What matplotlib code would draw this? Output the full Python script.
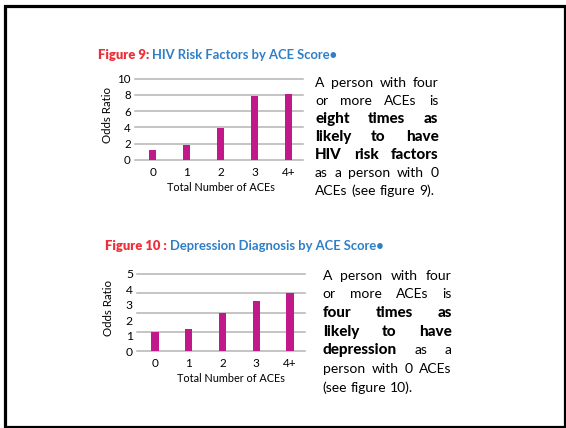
import matplotlib
matplotlib.use('Agg')
import matplotlib.pyplot as plt
from matplotlib.patches import Rectangle
from matplotlib.transforms import IdentityTransform

W, H = 566, 428
FONT = ['Lato', 'DejaVu Sans']

categories = ['0', '1', '2', '3', '4+']
hiv_odds = [1.2, 1.8, 3.9, 7.9, 8.1]
hiv_ticks = [0, 2, 4, 6, 8, 10]
dep_odds = [1.25, 1.45, 2.5, 3.25, 3.75]
dep_ticks = [0, 1, 2, 3, 4, 5]
dep_grid = [0, 1.25, 2.5, 3.75, 5]

hiv_title = ('Figure 9:', 'HIV Risk Factors by ACE Score•')
dep_title = ('Figure 10 :', 'Depression Diagnosis by ACE Score•')

# each line: list of (text, bold)
hiv_text = [
    [('A person with four', False)],
    [('or more ACEs is', False)],
    [('eight times as', True)],
    [('likely to have', True)],
    [('HIV risk factors', True)],
    [('as a person with 0', False)],
    [('ACEs (see figure 9).', False)],
]
dep_text = [
    [('A person with four', False)],
    [('or more ACEs is', False)],
    [('four times as', True)],
    [('likely to have', True)],
    [('depression', True), ('as a', False)],
    [('person with 0 ACEs', False)],
    [('(see figure 10).', False)],
]

BAR = '#c2198a'
RED = '#ec2f38'
BLUE = '#2f7fc6'
GRID = '#b4b4b4'

plt.rcParams['font.family'] = FONT
fig = plt.figure(figsize=(W / 100, H / 100), dpi=100)
renderer = fig.canvas.get_renderer()


def px_axes(left, top, right, bottom):
    return fig.add_axes([left / W, 1 - bottom / H, (right - left) / W, (bottom - top) / H])


def bar_panel(ax, values, yticks, grid_at, xlim, tick_size):
    xs = range(len(categories))
    ax.bar(xs, values, width=0.22, color=BAR, zorder=3)
    ax.set_xlim(*xlim)
    ax.set_ylim(yticks[0], yticks[-1])
    ax.set_xticks(list(xs))
    ax.set_xticklabels(categories, fontsize=8.5)
    ax.set_yticks(yticks)
    ax.set_yticklabels([str(t) for t in yticks], fontsize=tick_size)
    for g in grid_at:
        ax.axhline(g, color=GRID, lw=1.1, zorder=1, clip_on=False)
    for s in ax.spines.values():
        s.set_visible(False)
    ax.tick_params(axis='y', length=0, pad=3)
    ax.tick_params(axis='x', length=0, pad=5)
    ax.set_ylabel('Odds Ratio', fontsize=8.3)


def draw_title(x, y, parts, size):
    red, blue = parts
    t = fig.text(x, H - y, red, transform=IdentityTransform(), color=RED,
                 fontsize=size, fontweight='heavy', va='baseline')
    w = t.get_window_extent(renderer).width
    fig.text(x + w + 3, H - y, blue, transform=IdentityTransform(), color=BLUE,
             fontsize=size, fontweight='bold', va='baseline')


def draw_paragraph(lines, x0, x1, y0, leading, size):
    space = size * 100 / 72 * 0.27
    for i, line in enumerate(lines):
        words = [(w, b) for seg, b in line for w in seg.split()]
        y = H - (y0 + i * leading)
        texts = [fig.text(0, y, w, transform=IdentityTransform(),
                          fontsize=size + 0.9 if b else size,
                          fontweight='black' if b else 'normal', va='baseline')
                 for w, b in words]
        widths = [t.get_window_extent(renderer).width for t in texts]
        if i == len(lines) - 1:
            gap = space
        else:
            gap = (x1 - x0 - sum(widths)) / (len(texts) - 1)
        x = x0
        for t, w in zip(texts, widths):
            t.set_x(x)
            x += w + gap


# Figure 9 panel
ax9 = px_axes(135, 78.7, 303, 159.7)
bar_panel(ax9, hiv_odds, hiv_ticks, hiv_ticks, (-0.52, 4.43), 8.3)
ax9.yaxis.set_label_coords(-0.133, 0.55)
fig.text(220.5 / W, 1 - 188 / H, 'Total Number of ACEs', fontsize=7.8,
         ha='center', va='center')
draw_title(98, 59, hiv_title, 9.4)
draw_paragraph(hiv_text, 315, 438.5, 86.7, 18.05, 10)

# Figure 10 panel
ax10 = px_axes(137, 274, 305, 351.3)
bar_panel(ax10, dep_odds, dep_ticks, dep_grid, (-0.53, 4.44), 8.7)
ax10.yaxis.set_label_coords(-0.137, 0.56)
fig.text(230.5 / W, 1 - 378 / H, 'Total Number of ACEs', fontsize=7.8,
         ha='center', va='center')
draw_title(105, 250, dep_title, 9.4)
draw_paragraph(dep_text, 322.7, 451.7, 279.5, 18.7, 10)

# page frame
fig.add_artist(Rectangle((4.5, H - 426.5), 560, 420.5, transform=IdentityTransform(),
                         fill=False, ec='black', lw=2.3))

fig.savefig('out.png', dpi=100)
